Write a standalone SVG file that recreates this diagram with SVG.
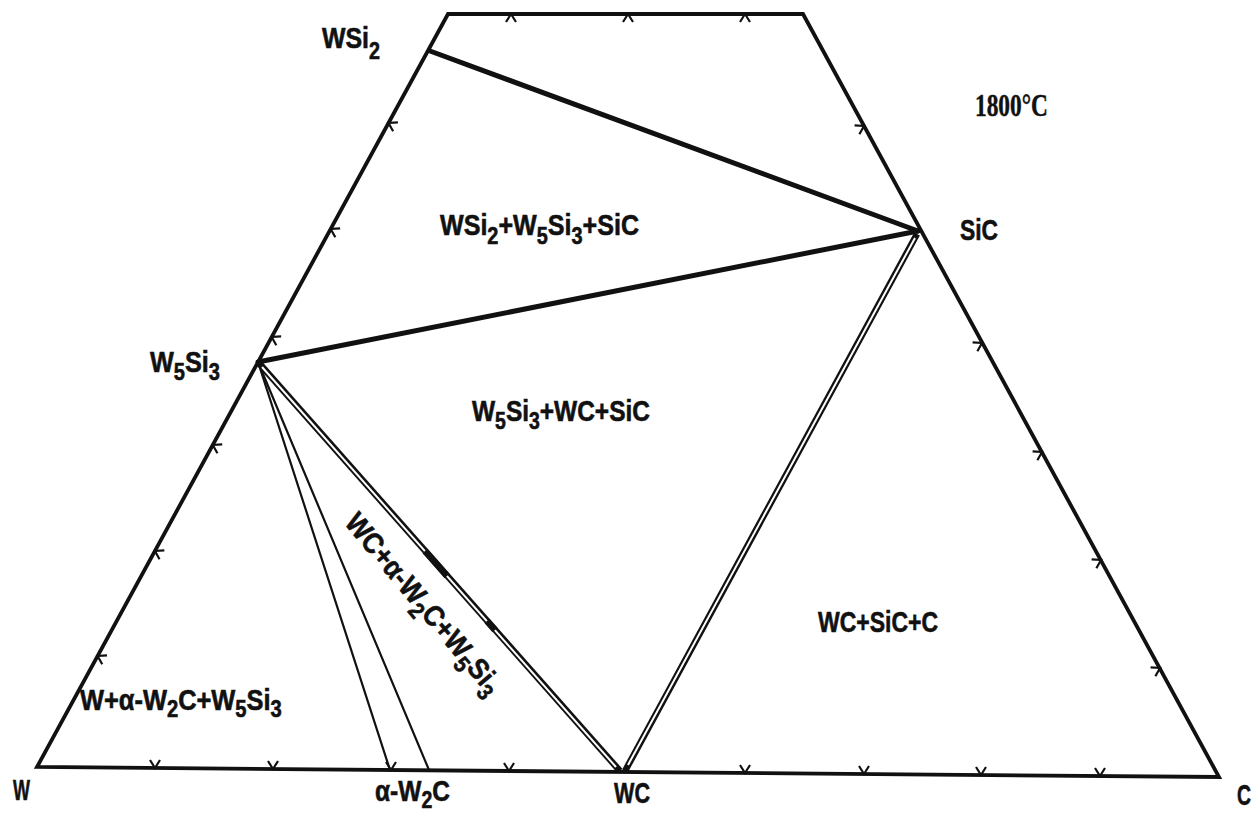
<svg xmlns="http://www.w3.org/2000/svg" width="1257" height="813" viewBox="0 0 1257 813">
  <defs>
    <style>
      .lbl { font-family: "Liberation Sans", Arial, sans-serif; font-weight: bold; font-size: 29px; fill: #111; stroke: #111; stroke-width: 0.6; }
      .sub { font-size: 23px; }
      .temp { font-family: "Liberation Serif", "Times New Roman", serif; font-weight: bold; font-size: 32px; fill: #111; stroke: #111; stroke-width: 0.5; }
      .edge { fill: none; stroke: #111; stroke-width: 3.8; stroke-linejoin: miter; }
      .thick { fill: none; stroke: #111; stroke-width: 5; stroke-linecap: round; }
      .thin { fill: none; stroke: #111; stroke-width: 2.2; stroke-linecap: round; }
      .dblo { fill: none; stroke: #111; stroke-width: 6.5; stroke-linecap: butt; }
      .dbli { fill: none; stroke: #fff; stroke-width: 2; stroke-linecap: butt; }
      .tick { fill: none; stroke: #111; stroke-width: 2.2; }
    </style>
    <path id="tk" class="tick" d="M-5,-8 L0,0 L5,-8"/>
  </defs>
  <rect width="1257" height="813" fill="#fff"/>

  <g id="frame">
    <path class="edge" d="M37,767 L448,14 L803,14 L1219,777 Z"/>
    <g id="ticks">
      <use href="#tk" x="155" y="768"/>
      <use href="#tk" x="273" y="769"/>
      <use href="#tk" x="391" y="770"/>
      <use href="#tk" x="509" y="771"/>
      <use href="#tk" x="745" y="773"/>
      <use href="#tk" x="864" y="774"/>
      <use href="#tk" x="981" y="775"/>
      <use href="#tk" x="1100" y="776"/>
      <use href="#tk" transform="translate(511,14) rotate(180)"/>
      <use href="#tk" transform="translate(628,14) rotate(180)"/>
      <use href="#tk" transform="translate(745,14) rotate(180)"/>
      <use href="#tk" transform="translate(97.6,656) rotate(118.6)"/>
      <use href="#tk" transform="translate(154.9,551) rotate(118.6)"/>
      <use href="#tk" transform="translate(212.8,445) rotate(118.6)"/>
      <use href="#tk" transform="translate(271.7,337) rotate(118.6)"/>
      <use href="#tk" transform="translate(330.7,229) rotate(118.6)"/>
      <use href="#tk" transform="translate(388.5,123) rotate(118.6)"/>
      <use href="#tk" transform="translate(864,126) rotate(-118.6)"/>
      <use href="#tk" transform="translate(982,343) rotate(-118.6)"/>
      <use href="#tk" transform="translate(1042,452) rotate(-118.6)"/>
      <use href="#tk" transform="translate(1101,560) rotate(-118.6)"/>
      <use href="#tk" transform="translate(1160,668) rotate(-118.6)"/>
    </g>
  </g>

  <g id="connectors">
    <line class="thick" x1="430" y1="51" x2="918" y2="231"/>
    <line class="thick" x1="258" y1="362" x2="918" y2="231"/>
    <line class="thin" x1="258" y1="362" x2="390" y2="770"/>
    <line class="thin" x1="258" y1="362" x2="429" y2="770"/>
    <line class="dblo" x1="258" y1="362" x2="620" y2="771"/>
    <line class="dbli" x1="262" y1="367" x2="616" y2="767"/>
    <line class="dblo" x1="625" y1="771" x2="917" y2="234"/>
    <line class="dbli" x1="628" y1="765" x2="915" y2="238"/>
    <line stroke="#111" stroke-width="6.5" x1="425" y1="551" x2="447" y2="576"/>
    <line stroke="#111" stroke-width="6.5" x1="487" y1="621" x2="495" y2="630"/>
  </g>

  <g id="node-W">
    <text class="lbl" transform="translate(13,800) scale(0.62,1)">W</text>
  </g>
  <g id="node-C">
    <text class="lbl" transform="translate(1237,805) scale(0.67,1)">C</text>
  </g>
  <g id="node-WC">
    <text class="lbl" transform="translate(614,803) scale(0.745,1)">WC</text>
  </g>
  <g id="node-aW2C">
    <text class="lbl" transform="translate(375,801) scale(0.846,1)">α-W<tspan class="sub" dy="7">2</tspan><tspan dy="-7">C</tspan></text>
  </g>
  <g id="node-SiC">
    <text class="lbl" transform="translate(960,240) scale(0.787,1)">SiC</text>
  </g>
  <g id="node-WSi2">
    <text class="lbl" transform="translate(322,48) scale(0.858,1)">WSi<tspan class="sub" dy="11">2</tspan></text>
  </g>
  <g id="node-W5Si3">
    <text class="lbl" transform="translate(150,372) scale(0.87,1)">W<tspan class="sub" dy="8">5</tspan><tspan dy="-8">Si</tspan><tspan class="sub" dy="8">3</tspan></text>
  </g>

  <g id="temperature">
    <text class="temp" transform="translate(975,116) scale(0.73,1)">1800°C</text>
  </g>

  <g id="region-WSi2-W5Si3-SiC">
    <text class="lbl" transform="translate(440,235) scale(0.865,1)">WSi<tspan class="sub" dy="9">2</tspan><tspan dy="-9">+W</tspan><tspan class="sub" dy="9">5</tspan><tspan dy="-9">Si</tspan><tspan class="sub" dy="9">3</tspan><tspan dy="-9">+SiC</tspan></text>
  </g>
  <g id="region-W5Si3-WC-SiC">
    <text class="lbl" transform="translate(472,421) scale(0.844,1)">W<tspan class="sub" dy="8">5</tspan><tspan dy="-8">Si</tspan><tspan class="sub" dy="8">3</tspan><tspan dy="-8">+WC+SiC</tspan></text>
  </g>
  <g id="region-WC-SiC-C">
    <text class="lbl" transform="translate(818,632) scale(0.793,1)">WC+SiC+C</text>
  </g>
  <g id="region-W-aW2C-W5Si3">
    <text class="lbl" transform="translate(80,710) scale(0.877,1)">W+α-W<tspan class="sub" dy="7">2</tspan><tspan dy="-7">C+W</tspan><tspan class="sub" dy="7">5</tspan><tspan dy="-7">Si</tspan><tspan class="sub" dy="7">3</tspan></text>
  </g>
  <g id="region-WC-aW2C-W5Si3">
    <text class="lbl" transform="translate(423,604) rotate(50) scale(0.9,1)" x="0" y="9" text-anchor="middle">WC+α-W<tspan class="sub" dy="8">2</tspan><tspan dy="-8">C+W</tspan><tspan class="sub" dy="8">5</tspan><tspan dy="-8">Si</tspan><tspan class="sub" dy="8">3</tspan></text>
  </g>
</svg>
